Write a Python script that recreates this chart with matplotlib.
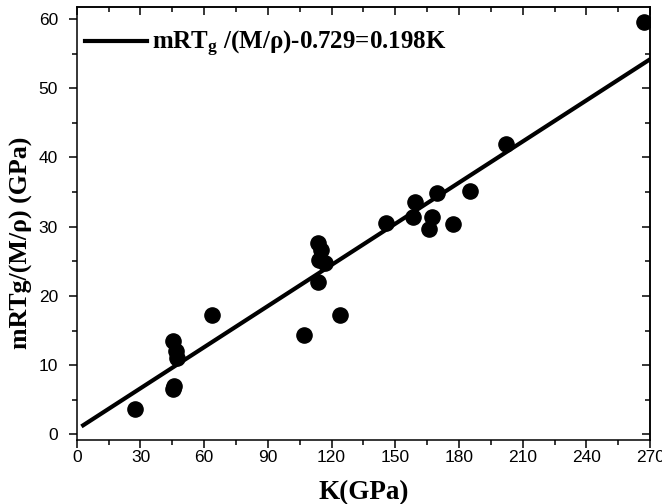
import matplotlib.pyplot as plt
import numpy as np

plt.rcParams['mathtext.fontset'] = 'custom'
plt.rcParams['mathtext.rm'] = 'Liberation Serif:bold'
plt.rcParams['mathtext.it'] = 'Liberation Serif:bold'
plt.rcParams['mathtext.bf'] = 'Liberation Serif:bold'

# data
K = [27.3, 45.1, 46.5, 47.0, 45.1, 45.9, 63.5,
     107.1, 113.4, 115.0, 114.2, 116.9, 113.7, 123.9,
     145.6, 159.3, 158.5, 169.8, 167.1, 166.0, 177.0, 185.2,
     202.2, 266.9]
Y = [3.7, 13.5, 12.1, 11.1, 6.5, 7.0, 17.2,
     14.3, 27.6, 26.7, 25.2, 24.7, 22.0, 17.3,
     30.6, 33.6, 31.4, 34.8, 31.4, 29.7, 30.4, 35.2,
     41.9, 59.6]

slope = 0.198
intercept = 0.729
fit_x = [3, 270]

fig = plt.figure(figsize=(6.62, 5.04), dpi=100)
ax = fig.add_axes([0.116, 0.127, 0.866, 0.860])

fx = np.array(fit_x)
ax.plot(fx, slope * fx + intercept, color='black', lw=3,
        label='mRT$_{\\mathrm{g}}$ /(M/ρ)-0.729=0.198K')
ax.scatter(K, Y, s=120, color='black', zorder=3)

ax.set_xlim(0, 270)
ax.set_ylim(-0.8, 61.8)
ax.set_xticks(np.arange(0, 271, 30))
ax.set_xticks(np.arange(0, 271, 15), minor=True)
ax.set_yticks(np.arange(0, 61, 10))
ax.set_yticks(np.arange(0, 61, 5), minor=True)

ax.tick_params(which='major', direction='out', length=6, width=1.1,
               labelsize=12.5)
ax.tick_params(which='minor', direction='out', length=3.5, width=1.1)
ax.tick_params(axis='x', which='major', pad=1.5)
ax.tick_params(axis='y', which='major', pad=7.5)
for lab in ax.get_xticklabels() + ax.get_yticklabels():
    lab.set_family('Liberation Sans')

top = ax.secondary_xaxis('top')
top.set_xticks(np.arange(0, 271, 30))
top.set_xticks(np.arange(0, 271, 15), minor=True)
top.tick_params(which='both', direction='in', labeltop=False, width=1.1)
top.tick_params(which='major', length=6)
top.tick_params(which='minor', length=3.5)
right = ax.secondary_yaxis('right')
right.set_yticks(np.arange(0, 61, 10))
right.set_yticks(np.arange(0, 61, 5), minor=True)
right.tick_params(which='both', direction='in', labelright=False, width=1.1)
right.tick_params(which='major', length=6)
right.tick_params(which='minor', length=3.5)

for sp in ax.spines.values():
    sp.set_linewidth(1.1)
top.spines['top'].set_linewidth(1.1)
right.spines['right'].set_linewidth(1.1)

ax.set_xlabel('K(GPa)', fontsize=19.5, fontweight='bold',
              family='Liberation Serif')
ax.xaxis.set_label_coords(0.5, -0.092)
ax.set_ylabel('mRTg/(M/ρ) (GPa)', fontsize=18.6, fontweight='bold',
              family='Liberation Serif')
ax.yaxis.set_label_coords(-0.077, 0.455)

leg = ax.legend(loc='center left', bbox_to_anchor=(0.014, 0.913),
                frameon=False, handlelength=2.5, handletextpad=0.2,
                borderaxespad=0, borderpad=0,
                prop={'family': 'Liberation Serif', 'weight': 'bold', 'size': 18})

fig.savefig('out.png', dpi=100)
